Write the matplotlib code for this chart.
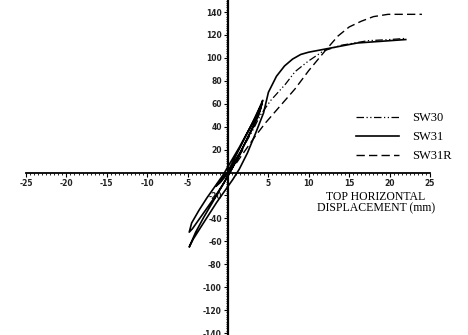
import matplotlib
matplotlib.use("Agg")
import matplotlib.pyplot as plt
from matplotlib.ticker import MultipleLocator, FixedLocator

# ---- data ----
sw30_x = [0, 0.8, 1.8, 3.0, 4.0, 5.3, 7.1, 8.3, 9.9, 11.8, 14.0, 17.3, 20.0, 22.0]
sw30_y = [0, 9, 21, 36, 50, 63, 77, 88, 97, 106, 111, 115, 116, 117]

sw31r_x = [0, 1.0, 2.0, 3.3, 4.6, 6.2, 8.3, 10.0, 12.0, 13.6, 15.0, 16.5, 18.0, 19.8, 22.0, 24.0]
sw31r_y = [0, 8, 18, 31, 43, 56, 73, 89, 106, 119, 127, 132, 136, 138, 138, 138]

sw31_x = [0, 0.6, 1.2, 1.8, 1.2, 0.4, -0.4, -1.0, -1.5, -0.8, 0.0,
          1.0, 2.0, 3.0, 3.8, 4.3,
          4.0, 3.2, 2.2, 1.2, 0.3, -0.6, -1.6, -2.6, -3.6, -4.4, -4.8,
          -4.5, -3.6, -2.6, -1.6, -0.6, 0.4, 1.4, 2.4, 3.4, 4.2,
          3.8, 3.0, 2.0, 1.0, 0.0, -1.0, -2.0, -3.0, -4.0, -4.8,
          -4.3, -3.4, -2.4, -1.4, -0.4, 0.6, 1.4, 2.4, 3.4, 4.4,
          5.0, 6.0, 7.0, 8.0, 9.0, 10.0, 11.5, 13.0, 14.5, 16.0, 18.0, 20.0, 22.0]
sw31_y = [0, 7, 14, 20, 12, 4, -4, -9, -12, -6, 1,
          15, 29, 43, 55, 63,
          55, 42, 27, 13, 1, -10, -21, -31, -41, -49, -52,
          -44, -33, -22, -12, -2, 10, 22, 35, 48, 60,
          50, 38, 24, 10, -3, -15, -27, -39, -52, -65,
          -58, -48, -37, -26, -16, -6, 3, 17, 34, 52,
          70, 84, 93, 99, 103, 105, 107, 109, 111, 113, 114, 115, 116]

x_ticks = [-25, -20, -15, -10, -5, 5, 10, 15, 20, 25]
y_ticks = [-140, -120, -100, -80, -60, -40, -20, 20, 40, 60, 80, 100, 120, 140]
labels = ["SW30", "SW31", "SW31R"]
x_title = "TOP HORIZONTAL\nDISPLACEMENT (mm)"

# ---- figure ----
fig = plt.figure(figsize=(4.68, 3.35), dpi=100)
ax = fig.add_axes([26 / 468, 0.0, 404 / 468, 1.0])
ax.set_xlim(-25, 25)
ax.set_ylim(-141.7, 150.5)

for s in ("top", "right"):
    ax.spines[s].set_visible(False)
ax.spines["left"].set_position(("data", 0))
ax.spines["bottom"].set_position(("data", 0))
ax.spines["left"].set_linewidth(1.6)
ax.spines["bottom"].set_linewidth(1.3)
ax.spines["bottom"].set_bounds(-25, 25)

ax.xaxis.set_major_locator(FixedLocator(x_ticks))
ax.yaxis.set_major_locator(FixedLocator(y_ticks))
ax.xaxis.set_minor_locator(MultipleLocator(0.5))
ax.yaxis.set_minor_locator(MultipleLocator(2))
ax.set_xticklabels([str(v) for v in x_ticks])
ax.set_yticklabels([str(v) for v in y_ticks])
ax.tick_params(axis="both", which="major", direction="out", length=3, width=0.8,
               labelsize=5.5, pad=1.5, colors="black")
ax.tick_params(axis="both", which="minor", direction="out", length=1.6, width=0.6)
for t in ax.get_xticklabels() + ax.get_yticklabels():
    t.set_fontweight("bold")
    t.set_color("#222222")

l30, = ax.plot(sw30_x, sw30_y, color="black", lw=0.9, dashes=[6, 2, 1, 2, 1, 2])
l31, = ax.plot(sw31_x, sw31_y, color="black", lw=1.2)
l31r, = ax.plot(sw31r_x, sw31r_y, color="black", lw=1.0, dashes=[6, 3])

leg = ax.legend([l30, l31, l31r], labels, loc="center left",
                bbox_to_anchor=(356 / 468, 1 - 137 / 335),
                bbox_transform=fig.transFigure, frameon=False,
                handlelength=3.4, handletextpad=1.1, labelspacing=0.55,
                borderaxespad=0, borderpad=0,
                prop={"family": "Liberation Serif", "size": 9})

ax.text(376 / 468, 1 - 203 / 335, x_title, transform=fig.transFigure,
        ha="center", va="center", family="Liberation Serif", size=8.5,
        linespacing=0.95)

fig.savefig("out.png", dpi=100)
